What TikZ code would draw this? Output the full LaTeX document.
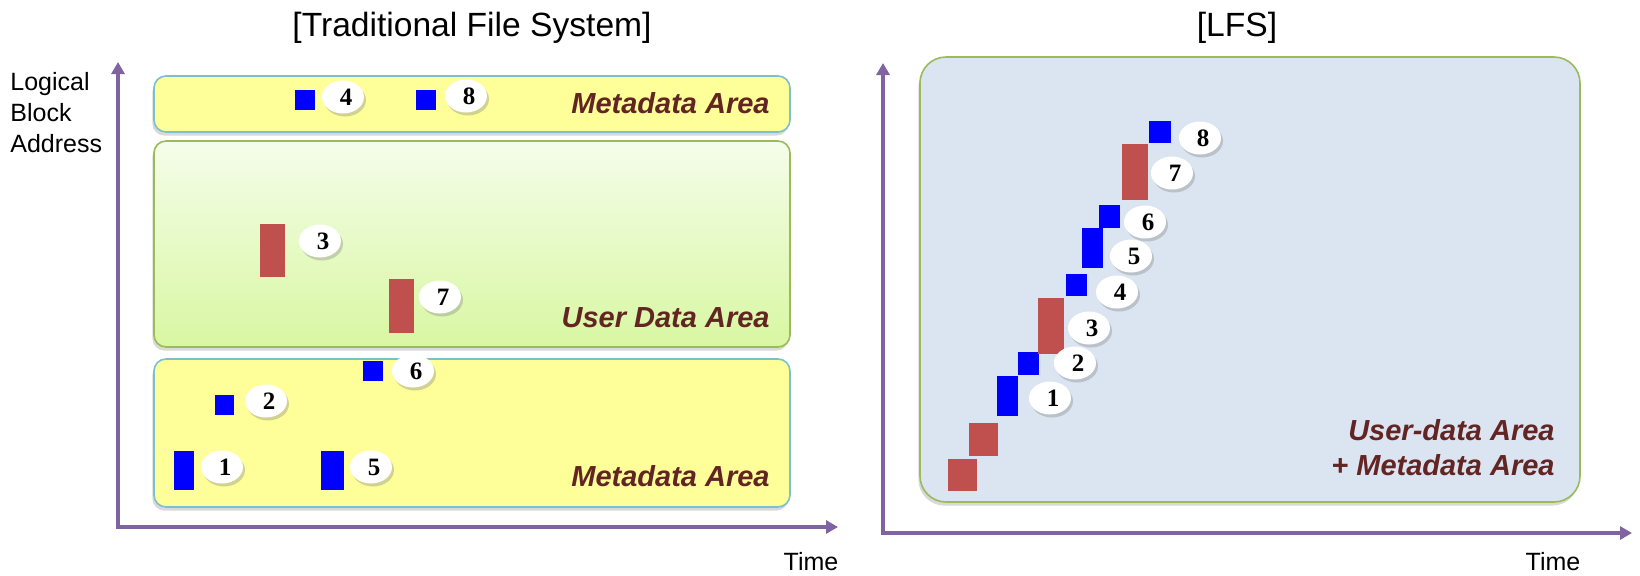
\documentclass[tikz,border=0pt]{standalone}
\usepackage{fontspec}
\setmainfont{Liberation Sans}
\newfontfamily\ballfont{Liberation Serif}
\usetikzlibrary{arrows.meta,shapes.geometric,shadows}

\definecolor{axispurple}{HTML}{8064A2}
\definecolor{areayellow}{HTML}{FFFF99}
\definecolor{yellowedge}{HTML}{7CC0D0}
\definecolor{greentop}{HTML}{F5FDEA}
\definecolor{greenbot}{HTML}{D8F7A2}
\definecolor{greenedge}{HTML}{9BBB59}
\definecolor{lfsfill}{HTML}{DBE5F1}
\definecolor{labelred}{HTML}{632523}
\definecolor{blkblue}{HTML}{0000FF}
\definecolor{blkred}{HTML}{C0504D}
\definecolor{ballrim}{HTML}{E2DFCC}
\definecolor{ballrimdark}{HTML}{CFCBB6}

\pgfdeclareradialshading{ballshade}{\pgfpoint{-4bp}{4bp}}{%
  color(0bp)=(white); color(34bp)=(white); color(44bp)=(ballrim); color(50bp)=(ballrimdark)}

\tikzset{
  axis/.style={draw=axispurple, line width=1.8pt, line join=miter,
    {Triangle[length=6pt,width=6.5pt]}-{Triangle[length=6pt,width=6.5pt]}},
  areabox/.style={rounded corners=6pt, line width=0.8pt, inner sep=0pt,
    drop shadow={shadow xshift=-0.8pt, shadow yshift=-1.8pt, opacity=0.3}},
  metabox/.style={areabox, draw=yellowedge, fill=areayellow},
  userbox/.style={areabox, draw=greenedge, top color=greentop, bottom color=greenbot},
  lfsbox/.style={areabox, rounded corners=13pt, draw=greenedge, fill=lfsfill},
  arealabel/.style={font=\fontsize{14.5}{17.5}\selectfont\bfseries\itshape,
    text=labelred, inner sep=0pt},
  title/.style={font=\fontsize{16.8}{19}\selectfont, inner sep=0pt},
  axislabel/.style={font=\fontsize{12.5}{15.5}\selectfont, inner sep=0pt},
  blk/.style={inner sep=0pt, outer sep=0pt, draw=none},
  bblk/.style={blk, fill=blkblue},
  rblk/.style={blk, fill=blkred},
  ball/.style={ellipse, minimum width=21pt, minimum height=16.5pt, inner sep=0pt,
    shading=ballshade,
    drop shadow={shadow xshift=1pt, shadow yshift=-1.5pt, opacity=0.35},
    font=\ballfont\bfseries\fontsize{12.5}{12.5}\selectfont},
}
\newcommand{\ballnum}[1]{\kern3pt#1}

\begin{document}
\begin{tikzpicture}[x=0.5pt, y=-0.5pt]
\useasboundingbox (0,0) rectangle (1640,575);

% ---------------- Traditional file system ----------------
\node[title] (ttitle) at (472,28) {[Traditional File System]};

\coordinate (ly) at (118,62);
\coordinate (lo) at (118,527);
\coordinate (lx) at (838,527);
\draw[axis] (ly) -- (lo) -- (lx);

\node[axislabel, align=left, anchor=north west] (lba) at (10,72)
  {Logical\\Block\\Address};
\node[axislabel] (ltime) at (811,562) {Time};

\node[metabox, minimum width=318pt, minimum height=28pt] (metatop) at (472,104) {};
\node[userbox, minimum width=318pt, minimum height=103pt] (userarea) at (472,244) {};
\node[metabox, minimum width=318pt, minimum height=74pt] (metabot) at (472,433) {};

\node[arealabel, anchor=east] (lmt) at (770,103) {Metadata Area};
\node[arealabel, anchor=east] (lud) at (770,318) {User Data Area};
\node[arealabel, anchor=east] (lmb) at (770,476) {Metadata Area};

% written blocks
\node[bblk, minimum width=10pt, minimum height=10pt] (l4) at (305,100) {};
\node[bblk, minimum width=10pt, minimum height=10pt] (l8) at (426,100) {};
\node[rblk, minimum width=12.5pt, minimum height=26.5pt] (l3) at (272.5,250.5) {};
\node[rblk, minimum width=12.5pt, minimum height=27pt] (l7) at (401.5,306) {};
\node[bblk, minimum width=10pt, minimum height=10pt] (l6) at (373,371) {};
\node[bblk, minimum width=9.5pt, minimum height=10pt] (l2) at (224.5,405) {};
\node[bblk, minimum width=10pt, minimum height=19.5pt] (l1) at (184,470.5) {};
\node[bblk, minimum width=11.5pt, minimum height=19.5pt] (l5) at (332.5,470.5) {};

% write order
\node[ball] (lb4) at (343,97) {\ballnum{4}};
\node[ball] (lb8) at (466,96) {\ballnum{8}};
\node[ball] (lb3) at (320,241) {\ballnum{3}};
\node[ball] (lb7) at (440,297) {\ballnum{7}};
\node[ball] (lb6) at (413,371) {\ballnum{6}};
\node[ball] (lb2) at (266,401) {\ballnum{2}};
\node[ball] (lb1) at (222,467) {\ballnum{1}};
\node[ball] (lb5) at (371,467) {\ballnum{5}};

% ---------------- LFS ----------------
\node[title] (rtitle) at (1237,28) {[LFS]};

\coordinate (ry) at (883,63);
\coordinate (ro) at (883,533);
\coordinate (rx) at (1632,533);
\draw[axis] (ry) -- (ro) -- (rx);
\node[axislabel] (rtime) at (1553,562) {Time};

\node[lfsbox, minimum width=330pt, minimum height=222.5pt] (lfsarea) at (1250,279.5) {};
\node[arealabel, align=right, anchor=east] (lfslabel) at (1555,448)
  {User-data Area\\+ Metadata Area};

% log-structured writes
\node[rblk, minimum width=14.5pt, minimum height=16pt] (rb) at (962.5,475) {};
\node[rblk, minimum width=14.5pt, minimum height=16.5pt] (ra) at (983.5,439.5) {};
\node[bblk, minimum width=10.5pt, minimum height=20pt] (r1) at (1007.5,396) {};
\node[bblk, minimum width=10.5pt, minimum height=11.5pt] (r2) at (1028.5,363.5) {};
\node[rblk, minimum width=13pt, minimum height=28pt] (r3) at (1051,326) {};
\node[bblk, minimum width=10.5pt, minimum height=11pt] (r4) at (1076.5,285) {};
\node[bblk, minimum width=10.5pt, minimum height=20pt] (r5) at (1092.5,248) {};
\node[bblk, minimum width=10.5pt, minimum height=11.5pt] (r6) at (1109.5,216.5) {};
\node[rblk, minimum width=13pt, minimum height=28pt] (r7) at (1135,172) {};
\node[bblk, minimum width=11pt, minimum height=11pt] (r8) at (1160,132) {};

\node[ball] (rb8) at (1200,138) {\ballnum{8}};
\node[ball] (rb7) at (1172,173) {\ballnum{7}};
\node[ball] (rb6) at (1145,222) {\ballnum{6}};
\node[ball] (rb5) at (1131,256) {\ballnum{5}};
\node[ball] (rb4) at (1117,292) {\ballnum{4}};
\node[ball] (rb3) at (1089,328) {\ballnum{3}};
\node[ball] (rb2) at (1075,363) {\ballnum{2}};
\node[ball] (rb1) at (1050,398) {\ballnum{1}};
\end{tikzpicture}
\end{document}
